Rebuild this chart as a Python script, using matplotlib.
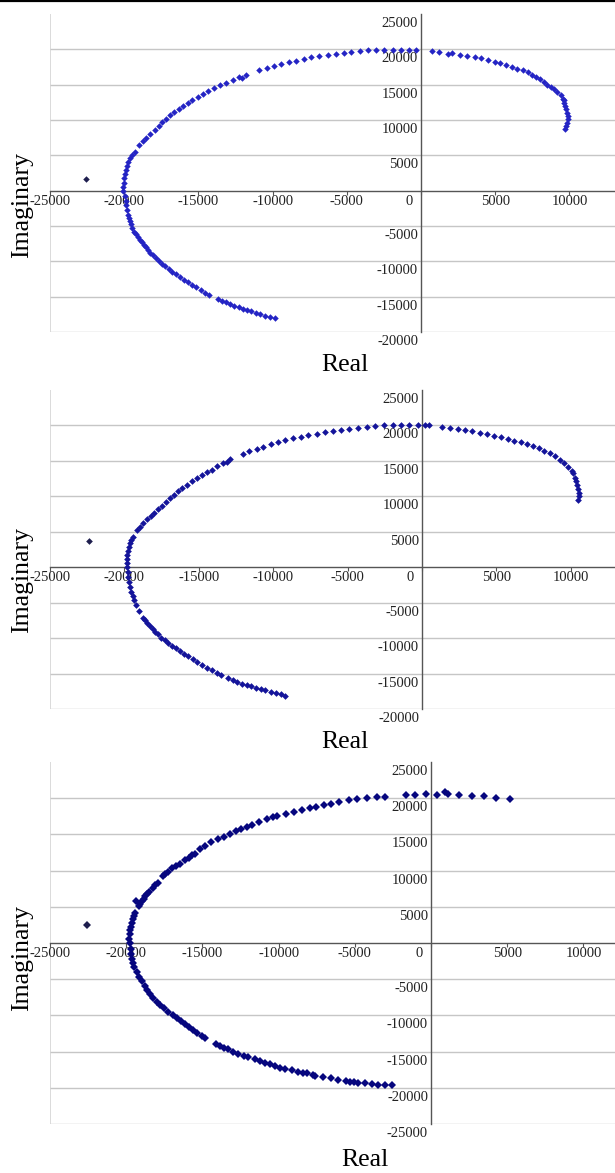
import matplotlib
matplotlib.use('Agg')
import matplotlib.pyplot as plt
import matplotlib.transforms as mtransforms
from matplotlib.lines import Line2D

plt.rcParams['font.family'] = ['Liberation Serif', 'DejaVu Serif']

# tick values
x_ticks = [-25000, -20000, -15000, -10000, -5000, 0, 5000, 10000]
y_ticks_a = [25000, 20000, 15000, 10000, 5000, -5000, -10000, -15000, -20000]
y_ticks_b = [25000, 20000, 15000, 10000, 5000, -5000, -10000, -15000, -20000, -25000]

# panel 1
p1_real = [
    -9844, -10182, -10542, -10857, -11150, -11443, -11713, -11984, -12276, -12569,
    -12839, -13109, -13402, -13695, -14258, -14528, -14821, -15136, -15429, -15722,
    -15992, -16262, -16532, -16780, -17005, -17231, -17456, -17681, -17884, -18064,
    -18244, -18424, -18559, -18694, -18830, -18965, -19077, -19190, -19370, -19483,
    -19550, -19640, -19708, -19753, -19820, -19865, -19910, -19955, -20050, -20050,
    -20020, -20000, -19950, -19890, -19820, -19730, -19640, -19480, -19300, -18970,
    -18740, -18515, -18244, -17950, -17681, -17433, -17163, -16893, -16623, -16330,
    -16037, -15722, -15406, -15046, -14686, -14325, -13965, -13560, -13132, -12682,
    -12254, -12051, -11804, -10903, -10407, -9912, -9416, -8921, -8403, -7885,
    -7389, -6849, -6241, -5745, -5200, -4700, -4120, -3540, -3060, -2520,
    -1900, -1360, -820, -340, 714, 1227, 1851, 2119, 2609, 3100,
    3613, 4059, 4505, 4951, 5352, 5731, 6133, 6489, 6846, 7181,
    7471, 7738, 8006, 8296, 8519, 8742, 8965, 9188, 9411, 9567,
    9634, 9656, 9700, 9790, 9857, 9901, 9901, 9857, 9790, 9678]
p1_imag = [
    -18050, -17910, -17725, -17493, -17307, -17075, -16890, -16704, -16518, -16333,
    -16101, -15822, -15544, -15266, -14709, -14430, -14059, -13688, -13317, -12946,
    -12574, -12203, -11832, -11461, -11090, -10718, -10347, -9976, -9512, -9141,
    -8770, -8398, -8027, -7656, -7285, -6914, -6542, -6171, -5800, -5336,
    -4779, -4315, -3851, -3387, -2784, -2088, -1392, -696, 0, 550,
    1150, 1750, 2300, 2900, 3500, 4100, 4600, 5100, 5450, 6400,
    6970, 7440, 8009, 8625, 9194, 9715, 10189, 10758, 11184, 11611,
    12037, 12464, 12843, 13269, 13696, 14075, 14501, 14928, 15260, 15639,
    16018, 15876, 16397, 17060, 17345, 17630, 17914, 18150, 18388, 18624,
    18861, 19051, 19193, 19383, 19500, 19620, 19760, 19860, 19900, 19950,
    19960, 19960, 19960, 19950, 19760, 19670, 19386, 19434, 19150, 19009,
    18867, 18726, 18490, 18254, 18018, 17782, 17546, 17262, 17026, 16743,
    16413, 16130, 15752, 15327, 14997, 14666, 14336, 13958, 13486, 13014,
    12778, 12448, 11976, 11504, 11032, 10560, 10088, 9616, 9144, 8672]
p1_lone = (-22600, 1700)

# panel 2
p2_real = [
    -9186, -9501, -9813, -10171, -10530, -10843, -11157, -11470, -11784, -12098,
    -12411, -12725, -13016, -13531, -13800, -14136, -14472, -14786, -15099, -15413,
    -15704, -15995, -16264, -16533, -16802, -17048, -17294, -17518, -17720, -17922,
    -18101, -18280, -18459, -18594, -18728, -19042, -19221, -19333, -19445, -19534,
    -19624, -19691, -19736, -19781, -19848, -19848, -19826, -19803, -19758, -19714,
    -19646, -19557, -19445, -19131, -18952, -18728, -18504, -18235, -17989, -17720,
    -17474, -17205, -16936, -16667, -16376, -16107, -15816, -15480, -15144, -14808,
    -14472, -14114, -13755, -13352, -13128, -12904, -12053, -11605, -11112, -10664,
    -10171, -9678, -9186, -8648, -8155, -7640, -7080, -6498, -5960, -5421,
    -4883, -4301, -3718, -3136, -2554, -1971, -1411, -851, -291, 224,
    448, 1344, 1882, 2419, 2912, 3360, 3898, 4346, 4838, 5309,
    5779, 6205, 6630, 7034, 7437, 7840, 8221, 8602, 8960, 9274,
    9565, 9789, 10080, 10170, 10259, 10349, 10438, 10483, 10528, 10528,
    10483]
p2_imag = [
    -18150, -17916, -17775, -17541, -17353, -17165, -16978, -16790, -16603, -16415,
    -16180, -15946, -15570, -15148, -14867, -14539, -14163, -13788, -13319, -12944,
    -12569, -12194, -11818, -11443, -11068, -10693, -10318, -9942, -9473, -9098,
    -8676, -8254, -7879, -7504, -7128, -6190, -5393, -4690, -4127, -3517,
    -2814, -2110, -1407, -703, 0, 578, 1157, 1735, 2314, 2892,
    3422, 3904, 4290, 5206, 5688, 6170, 6748, 7230, 7712, 8194,
    8676, 9158, 9736, 10218, 10700, 11182, 11664, 12146, 12532, 13014,
    13400, 13785, 14219, 14701, 14846, 15328, 16002, 16388, 16725, 17015,
    17352, 17641, 17882, 18171, 18412, 18605, 18846, 19087, 19280, 19381,
    19524, 19667, 19810, 19905, 20000, 20048, 20095, 20048, 20000, 20000,
    20000, 19762, 19619, 19476, 19334, 19191, 19000, 18810, 18572, 18334,
    18096, 17858, 17620, 17334, 17049, 16763, 16430, 16097, 15668, 15192,
    14716, 14145, 13574, 13288, 12622, 12146, 11575, 11051, 10480, 10004,
    9528]
p2_lone = (-22400, 3650)

# panel 3
p3_real = [
    -2584, -3021, -3458, -3896, -4333, -4770, -5055, -5317, -5580, -6083,
    -6585, -7066, -7613, -7766, -8160, -8379, -8707, -9144, -9582, -9910,
    -10238, -10566, -10894, -11222, -11550, -11988, -12272, -12644, -12972, -13300,
    -13584, -13846, -14109, -14830, -15049, -15333, -15596, -15858, -16143, -16427,
    -16689, -16952, -17236, -17521, -17783, -18002, -18220, -18439, -18614, -18767,
    -18986, -19139, -19314, -19467, -19576, -19642, -19686, -19707, -19780, -19801,
    -19779, -19757, -19713, -19647, -19581, -19493, -19404, -19360, -19184, -19074,
    -18964, -18854, -18743, -18611, -18479, -18259, -18083, -17929, -17598, -17422,
    -17246, -16981, -16717, -16497, -16166, -15880, -15660, -15505, -15175, -14800,
    -14404, -13963, -13589, -13192, -12796, -12443, -12091, -11739, -11299, -10770,
    -10395, -10109, -9535, -9007, -8478, -7949, -7574, -7024, -6539, -6033,
    -5412, -4845, -4227, -3557, -3041, -1675, -1031, -309, 361, 902,
    1134, 1856, 2680, 3454, 4278, 5206]
p3_imag = [
    -19681, -19635, -19589, -19496, -19404, -19312, -19219, -19173, -19081, -18896,
    -18711, -18526, -18434, -18249, -18018, -17926, -17833, -17602, -17417, -17233,
    -17002, -16771, -16540, -16309, -16078, -15754, -15569, -15292, -15015, -14692,
    -14461, -14230, -13906, -13167, -12797, -12382, -12012, -11596, -11134, -10765,
    -10395, -9933, -9471, -9009, -8547, -8085, -7623, -7068, -6514, -5914,
    -5313, -4759, -4066, -3373, -2818, -2218, -1524, -832, 0, 566,
    1179, 1769, 2217, 2783, 3255, 3726, 4198, 5755, 5047, 5425,
    5802, 6132, 6462, 6792, 7076, 7547, 7972, 8349, 9198, 9528,
    9859, 10330, 10613, 10896, 11415, 11793, 12123, 12311, 12925, 13443,
    13962, 14387, 14670, 15094, 15519, 15802, 16085, 16321, 16745, 17076,
    17359, 17547, 17877, 18160, 18396, 18632, 18821, 19057, 19246, 19434,
    19813, 19907, 20000, 20140, 20234, 20420, 20467, 20514, 20467, 20841,
    20560, 20420, 20327, 20280, 20093, 19907]
p3_lone = (-22560, 2550)

W, H = 615, 1173
fig = plt.figure(figsize=(W / 100, H / 100), dpi=100)
fig.add_artist(Line2D([0, 1], [1 - 1.2 / H] * 2, color='black', lw=1.6))

AXIS = '#555555'
GRID = '#c6c6c6'


def panel(top, bottom, re, im, lone, xmax, ymin, yticks, colour, ms,
          real_pos, imag_pos):
    ax = fig.add_axes([50 / W, 1 - bottom / H, (W - 50) / W, (bottom - top) / H])
    ax.set_xlim(-25000, xmax)
    ax.set_ylim(ymin, 25000)
    ax.patch.set_alpha(0)

    for v in yticks[1:]:
        ax.axhline(v, color=GRID, lw=1.0, zorder=0)
    ax.axvline(-25000, color='#d4d4d4', lw=1.2, zorder=0)

    for s in ['top', 'right']:
        ax.spines[s].set_visible(False)
    ax.spines['left'].set_position(('data', 0))
    ax.spines['bottom'].set_position(('data', 0))
    for s in ['left', 'bottom']:
        ax.spines[s].set_color(AXIS)
        ax.spines[s].set_linewidth(1.0)
        ax.spines[s].set_zorder(1)

    ax.set_xticks(x_ticks)
    ax.set_yticks(yticks)
    ax.set_xticklabels([])
    ax.set_yticklabels([])
    ax.tick_params(axis='x', direction='out', length=3, width=0.8, color=AXIS)
    ax.tick_params(axis='y', length=0)

    for v in yticks:
        tr = mtransforms.offset_copy(ax.transData, fig=fig, x=-3, y=-3, units='dots')
        ax.text(0, v, str(v), transform=tr, ha='right', va='top', fontsize=10.5,
                color='#222222')
    for v in x_ticks:
        dx = -12 if v == 0 else 0
        tr = mtransforms.offset_copy(ax.transData, fig=fig, x=dx, y=-4, units='dots')
        ax.text(v, 0, str(v), transform=tr, ha='center', va='top', fontsize=10.5,
                color='#222222')

    ax.plot(re, im, 'D', color=colour, ms=ms, mew=0, zorder=3, clip_on=False)
    ax.plot([lone[0]], [lone[1]], 'D', color='#1e1e4e', ms=ms, mew=0, zorder=3)

    ax.text(real_pos[0], real_pos[1], 'Real', transform=ax.transAxes,
            ha='center', va='center', fontsize=18.5)
    ax.text(imag_pos[0], imag_pos[1], 'Imaginary', transform=ax.transAxes,
            ha='center', va='center', rotation=90, fontsize=18.5)
    return ax


panel(14, 332, p1_real, p1_imag, p1_lone, 13070, -20000, y_ticks_a,
      '#2424c4', 3.3, (0.522, -0.104), (-0.05, 0.40))
panel(390, 709, p2_real, p2_imag, p2_lone, 12970, -20000, y_ticks_a,
      '#14149a', 3.4, (0.522, -0.103), (-0.05, 0.404))
panel(762, 1124, p3_real, p3_imag, p3_lone, 12070, -25000, y_ticks_b,
      '#06067e', 4.3, (0.557, -0.10), (-0.05, 0.459))

fig.savefig('out.png', dpi=100)
